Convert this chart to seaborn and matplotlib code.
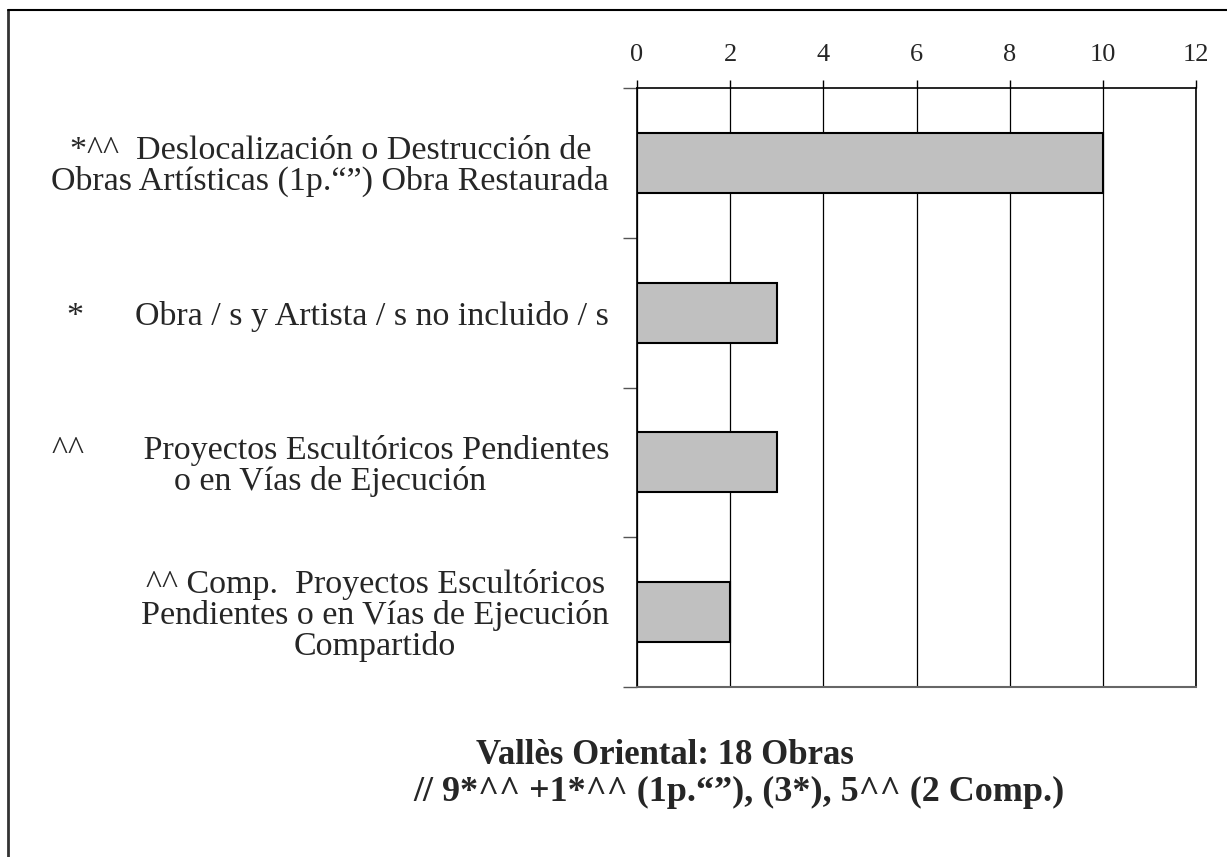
import matplotlib
matplotlib.use("Agg")
import matplotlib.pyplot as plt
import seaborn as sns
import pandas as pd
from matplotlib.lines import Line2D

categories = [
    "*^^  Deslocalización o Destrucción de\nObras Artísticas (1p.“”) Obra Restaurada",
    "*      Obra / s y Artista / s no incluido / s",
    "^^       Proyectos Escultóricos Pendientes\no en Vías de Ejecución",
    "^^ Comp.  Proyectos Escultóricos\nPendientes o en Vías de Ejecución\nCompartido",
]
values = [10, 3, 3, 2]
xticks = [0, 2, 4, 6, 8, 10, 12]
title_lines = ["Vallès Oriental: 18 Obras", "// 9*^^ +1*^^ (1p.“”), (3*), 5^^ (2 Comp.)"]

sns.set_theme(style="white")
plt.rcParams["font.family"] = ["Liberation Serif", "DejaVu Serif"]

W, H = 1227, 857
fig = plt.figure(figsize=(W / 100, H / 100), dpi=100)
ax = fig.add_axes([637 / W, 1 - 687 / H, (1196 - 637) / W, (687 - 88) / H])

df = pd.DataFrame({"cat": categories, "val": values})
sns.barplot(data=df, y="cat", x="val", orient="h", color="#c0c0c0",
            saturation=1, edgecolor="black", linewidth=1.5, width=0.4, ax=ax, zorder=3)

ax.set_xlim(0, 12)
ax.set_ylim(3.5, -0.5)
ax.xaxis.tick_top()
ax.set_xticks(xticks)
ax.set_xticklabels([str(t) for t in xticks], fontsize=19)
ax.tick_params(axis="x", direction="out", length=6, width=1, color="black", pad=10, top=True, bottom=False)
ax.grid(axis="x", color="black", linewidth=0.9, zorder=0)
ax.grid(axis="y", visible=False)

# category labels via minor ticks, boundaries via major ticks
ax.set_yticks([-0.5, 0.5, 1.5, 2.5, 3.5])
ax.set_yticklabels([])
ax.set_yticks(range(len(categories)), minor=True)
ax.set_yticklabels(categories, minor=True, fontsize=24.5, multialignment="center", linespacing=1.0)
ax.tick_params(axis="y", which="major", direction="out", length=10, width=1, color="#555555", left=True)
ax.tick_params(axis="y", which="minor", length=0, pad=20, left=True)
ax.set_xlabel("")
ax.set_ylabel("")

for s in ["top", "left", "right"]:
    ax.spines[s].set_color("black")
    ax.spines[s].set_linewidth(1.2)
ax.spines["bottom"].set_color("#666666")
ax.spines["bottom"].set_linewidth(1.5)

fig.text(665 / W, 1 - 756 / H, title_lines[0], ha="center", va="center",
         fontsize=25, fontweight="bold")
fig.text(739 / W, 1 - 792 / H, title_lines[1], ha="center", va="center",
         fontsize=26, fontweight="bold")

# figure frame (left and top)
fig.add_artist(Line2D([8 / W, 8 / W], [1 - 10 / H, 0], transform=fig.transFigure, color="#333333", lw=2))
fig.add_artist(Line2D([8 / W, 1], [1 - 10 / H, 1 - 10 / H], transform=fig.transFigure, color="black", lw=1.5))

fig.savefig("out.png", dpi=100)
